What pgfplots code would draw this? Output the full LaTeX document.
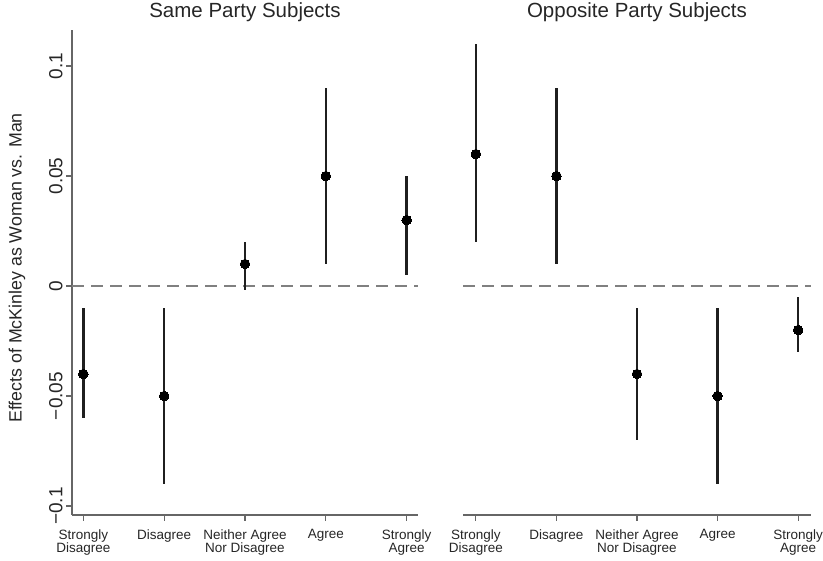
\documentclass[border=0pt]{standalone}
\usepackage{fontspec}
\setmainfont{Liberation Sans}
\usepackage{pgfplots}
\pgfplotsset{compat=1.18}
\begin{document}
\begin{tikzpicture}
\useasboundingbox (0pt,0pt) rectangle (823pt,561pt);
\pgfplotsset{
 panel/.style={
  scale only axis, anchor=south west,
  height=485pt,
  ymin=-0.1041, ymax=0.1164,
  xmin=0.86, xmax=5.14,
  xtick={1,2,3,4,5},
  xticklabels={{Strongly\\Disagree},Disagree,{Neither Agree\\Nor Disagree},Agree,{Strongly\\Agree}},
  x tick label style={font=\fontsize{13.5}{13.5}\selectfont, align=center, anchor=north, yshift=-5pt, text=black!85},
  tick align=outside, major tick length=6pt,
  tick style={color=black!60, line width=1.2pt},
  axis line style={color=black!60, line width=1.2pt, -},
  title style={font=\fontsize{20.5}{24}\selectfont, anchor=center, at={(axis description cs:0.5,1)}, yshift=12pt, text=black!85},
  /pgf/number format/assume math mode=true,
  clip=false,
 },
 ci/.style={draw=none, mark=none,
  error bars/.cd, y dir=both, y explicit, error mark=none, error bar style={draw=black!88, line width=2.6pt}},
 pt/.style={only marks, mark=*, mark size=4.8pt, mark options={fill=black, draw=black, line width=0pt}},
 zero/.style={color=black!50, line width=1.8pt, dash pattern=on 12pt off 7pt},
}
\begin{axis}[panel, at={(72pt,46pt)}, width=346pt,
  axis x line*=bottom, axis y line*=left,
  ytick={-0.1,-0.05,0,0.05,0.1},
  yticklabels={−0.1,−0.05,0,0.05,0.1},
  y tick label style={rotate=90, anchor=south, font=\fontsize{19}{22}\selectfont, text=black!85},
  title={Same Party Subjects}]
\addplot[zero] coordinates {(0.86,0) (5.14,0)};
\addplot[ci] coordinates {
 (1,-0.04) += (0,0.03) -= (0,0.02)
 (2,-0.05) += (0,0.04) -= (0,0.04)
 (3,0.01) += (0,0.01) -= (0,0.012)
 (4,0.05) += (0,0.04) -= (0,0.04)
 (5,0.03) += (0,0.02) -= (0,0.025)
};
\addplot[pt] coordinates {(1,-0.04) (2,-0.05) (3,0.01) (4,0.05) (5,0.03)};
\end{axis}
\begin{axis}[panel, at={(463pt,46pt)}, width=348pt,
  xmin=0.84, xmax=5.16,
  axis x line*=bottom, axis y line=none, ytick=\empty,
  title={Opposite Party Subjects}]
\addplot[zero] coordinates {(0.84,0) (5.16,0)};
\addplot[ci] coordinates {
 (1,0.06) += (0,0.05) -= (0,0.04)
 (2,0.05) += (0,0.04) -= (0,0.04)
 (3,-0.04) += (0,0.03) -= (0,0.03)
 (4,-0.05) += (0,0.04) -= (0,0.04)
 (5,-0.02) += (0,0.015) -= (0,0.01)
};
\addplot[pt] coordinates {(1,0.06) (2,0.05) (3,-0.04) (4,-0.05) (5,-0.02)};
\end{axis}
\node[rotate=90, font=\fontsize{17.8}{20}\selectfont, text=black!85] at (17pt,293pt) {Effects of McKinley as Woman vs. Man};
\end{tikzpicture}
\end{document}
